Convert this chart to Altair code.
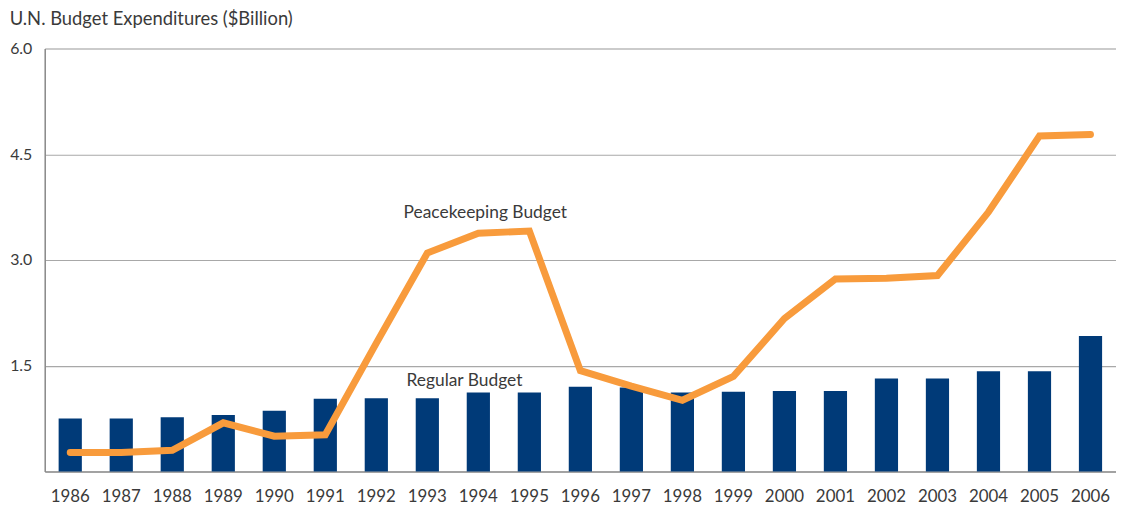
import altair as alt
import pandas as pd

years = [str(y) for y in range(1986, 2007)]
regular = [0.75, 0.75, 0.77, 0.80, 0.86, 1.03, 1.04, 1.04, 1.12, 1.12, 1.20, 1.19,
           1.12, 1.13, 1.14, 1.14, 1.32, 1.32, 1.42, 1.42, 1.92]
peacekeeping = [0.27, 0.27, 0.30, 0.69, 0.50, 0.52, 1.82, 3.10, 3.38, 3.41, 1.43, 1.21,
                1.01, 1.35, 2.17, 2.73, 2.74, 2.78, 3.68, 4.76, 4.78]

ann_year = ["1994", "1994"]
ann_value = [3.67, 1.28]
ann_text = ["Peacekeeping Budget", "Regular Budget"]

df = pd.DataFrame({"year": years, "regular": regular, "peace": peacekeeping})
ann1 = pd.DataFrame({"year": ann_year[:1], "v": ann_value[:1], "t": ann_text[:1]})
ann2 = pd.DataFrame({"year": ann_year[1:], "v": ann_value[1:], "t": ann_text[1:]})

FONT = "Lato"
TXT = "#3a3a3a"

xscale = alt.Scale(paddingInner=0.545, paddingOuter=0.2725)
yscale = alt.Scale(domain=[0, 6], nice=False)

x = alt.X("year:O", scale=xscale, sort=years,
          axis=alt.Axis(title=None, labelAngle=0, ticks=False, labelPadding=17,
                        labelFontSize=17, labelFont=FONT, labelColor=TXT,
                        domainColor="#8a8a8a", domainWidth=1.5, grid=False))

bars = alt.Chart(df).mark_bar(color="#003a78").encode(
    x=x,
    y=alt.Y("regular:Q", scale=yscale,
            axis=alt.Axis(title=None, values=[1.5, 3.0, 4.5, 6.0], format=".1f",
                          ticks=False, labelPadding=13, labelFontSize=16,
                          labelFont=FONT, labelColor=TXT, domainColor="#8a8a8a",
                          domainWidth=1.5, gridColor="#a8a8a8", gridWidth=1.2)),
)

line = alt.Chart(df).mark_line(color="#f89b3c", strokeWidth=7, strokeCap="round",
                               strokeJoin="miter").encode(
    x=alt.X("year:O", sort=years),
    y=alt.Y("peace:Q"),
)

t1 = alt.Chart(ann1).mark_text(font=FONT, fontSize=17.5, color=TXT, dx=7,
                               baseline="middle").encode(
    x=alt.X("year:O", sort=years), y="v:Q", text="t:N")
t2 = alt.Chart(ann2).mark_text(font=FONT, fontSize=17.5, color=TXT, dx=-14,
                               baseline="middle").encode(
    x=alt.X("year:O", sort=years), y="v:Q", text="t:N")

chart = alt.layer(bars, line, t1, t2).properties(
    width=1079, height=426,
    title=alt.TitleParams("U.N. Budget Expenditures ($Billion)", anchor="start",
                          font=FONT, fontSize=18.5, fontWeight="normal", color=TXT,
                          offset=12),
    autosize=alt.AutoSizeParams(type="none"),
    padding={"left": 37, "top": 39, "right": 0, "bottom": 36},
).configure_view(stroke=None).configure(background="white")

chart.save("out.html", embed_options={"renderer": "svg", "actions": False})
